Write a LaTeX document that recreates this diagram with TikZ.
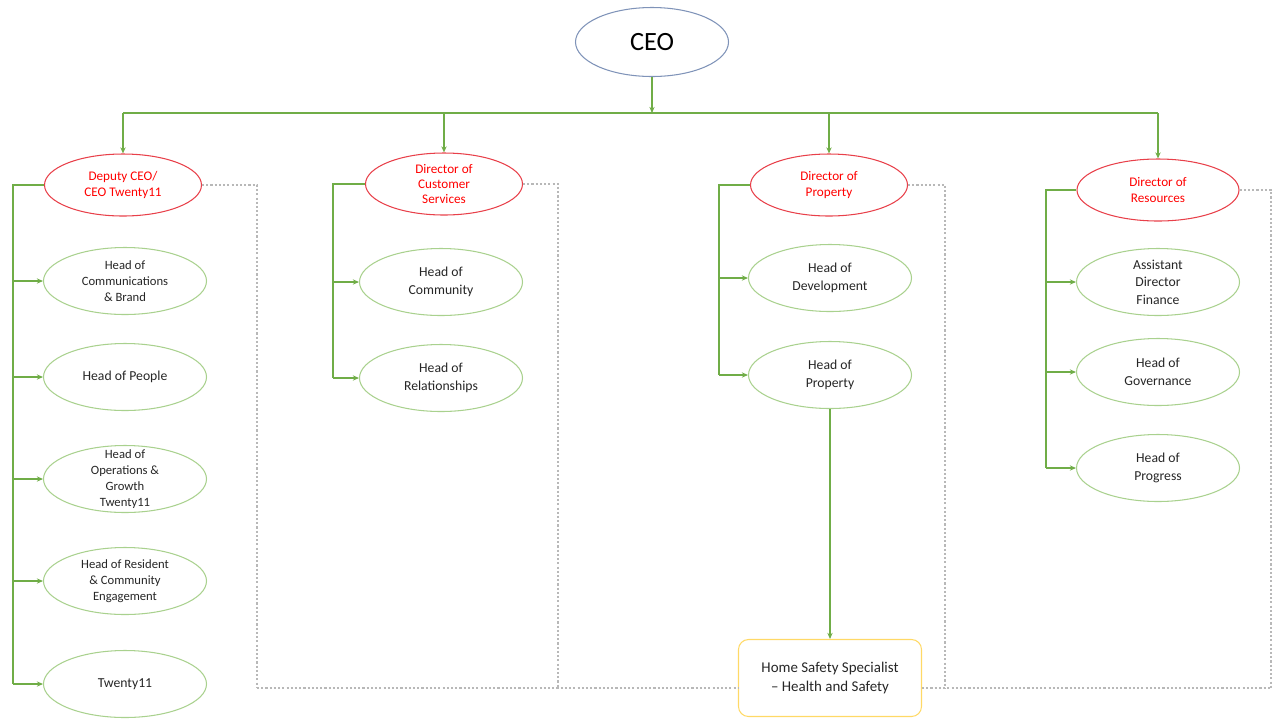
\documentclass[tikz,border=0pt]{standalone}
\usepackage{fontspec}
\setmainfont{Carlito}
\usetikzlibrary{shapes.geometric,arrows.meta}
\definecolor{linegreen}{HTML}{70AD47}
\definecolor{rimgreen}{HTML}{A9D18E}
\definecolor{rimred}{HTML}{E8404A}
\definecolor{txtred}{HTML}{FF0000}
\definecolor{rimblue}{HTML}{7F93B8}
\definecolor{rimgold}{HTML}{FFD966}
\definecolor{dashgrey}{HTML}{A6A6A6}
\tikzset{
  boss/.style={ellipse,draw=rimblue,line width=0.6pt,minimum width=30.6mm,minimum height=13.8mm,font=\fontsize{15}{18}\selectfont},
  director/.style={ellipse,draw=rimred,line width=0.6pt,text=txtred,align=center,inner sep=0pt,minimum width=31.4mm,minimum height=12.4mm,font=\fontsize{7.5}{8.8}\selectfont},
  head/.style={ellipse,draw=rimgreen,line width=0.6pt,text=black!85,align=center,inner xsep=0pt,inner ysep=-4pt,minimum width=32.6mm,minimum height=13.4mm,font=\fontsize{7.8}{10}\selectfont},
  smallhead/.style={head,font=\fontsize{7.2}{9}\selectfont},
  safety/.style={rectangle,rounded corners=2mm,draw=rimgold,line width=0.6pt,text=black!85,align=center,minimum width=36.6mm,minimum height=15.4mm,font=\fontsize{8.5}{11}\selectfont},
  link/.style={draw=linegreen,line width=0.6pt},
  linkto/.style={link,-{Stealth[length=3.5pt,width=3pt]}},
  dotlink/.style={draw=dashgrey!80,line width=0.6pt,dash pattern=on 1.2pt off 1.2pt},
}
\begin{document}
\begin{tikzpicture}[x=0.2mm,y=-0.2mm]
  \useasboundingbox (0,0) rectangle (1274,719);
  \node[boss] (CEO) at (652,42) {CEO};
  \node[director] (D1) at (123,185) {Deputy CEO/\\CEO Twenty11};
  \node[director] (D2) at (444,184) {Director of\\Customer\\Services};
  \node[director] (D3) at (829,185) {Director of\\Property};
  \node[director,minimum width=32.4mm] (D4) at (1158,190) {Director of\\Resources};
  % deputy ceo team
  \node[smallhead] (H11) at (125,281) {Head of\\Communications\\\& Brand};
  \node[head]      (H12) at (125,377) {Head of People};
  \node[smallhead] (H13) at (125,479) {Head of\\Operations \&\\Growth\\Twenty11};
  \node[smallhead] (H14) at (125,581) {Head of Resident\\\& Community\\Engagement};
  \node[head]      (H15) at (125,684) {Twenty11};
  % customer services team
  \node[head] (H21) at (441,282) {Head of\\Community};
  \node[head] (H22) at (441,378) {Head of\\Relationships};
  % property team
  \node[head] (H31) at (830,278) {Head of\\Development};
  \node[head] (H32) at (830,375) {Head of\\Property};
  \node[safety] (S) at (830,678) {Home Safety Specialist\\-- Health and Safety};
  % resources team
  \node[head] (H41) at (1158,282) {Assistant\\Director\\Finance};
  \node[head] (H42) at (1158,372) {Head of\\Governance};
  \node[head] (H43) at (1158,468) {Head of\\Progress};

  \coordinate (bus) at (652,113);
  \coordinate (base) at (0,688);
  \coordinate (L1) at (13,0);   \coordinate (L2) at (333,0);
  \coordinate (L3) at (719,0);  \coordinate (L4) at (1046,0);
  \coordinate (R1) at (257,0);  \coordinate (R2) at (558,0);
  \coordinate (R3) at (945,0);  \coordinate (R4) at (1271,0);

  \draw[linkto] (CEO) -- (bus);
  \draw[link] (D1.north |- bus) -- (D4.north |- bus);
  \foreach \d in {D1,D2,D3,D4}
    \draw[linkto] (\d.north |- bus) -- (\d.north);

  \draw[link,line width=1pt] (D1.west) -- (D1.west -| L1) -- (H15.west -| L1);
  \foreach \d/\l/\e in {D2/L2/H22,D3/L3/H32,D4/L4/H43}
    \draw[link] (\d.west) -- (\d.west -| \l) -- (\e.west -| \l);
  \foreach \l/\h in {L1/H11,L1/H12,L1/H13,L1/H14,L1/H15,L2/H21,L2/H22,L3/H31,L3/H32,L4/H41,L4/H42,L4/H43}
    \draw[linkto] (\h.west -| \l) -- (\h.west);

  \draw[linkto] (H32) -- (S);

  \foreach \d/\r in {D1/R1,D2/R2,D3/R3,D4/R4}
    \draw[dotlink] (\d.east) -- (\d.east -| \r) -- (\r |- base);
  \draw[dotlink] (R1 |- base) -- (S.west |- base);
  \draw[dotlink] (S.east |- base) -- (R4 |- base);
\end{tikzpicture}
\end{document}
